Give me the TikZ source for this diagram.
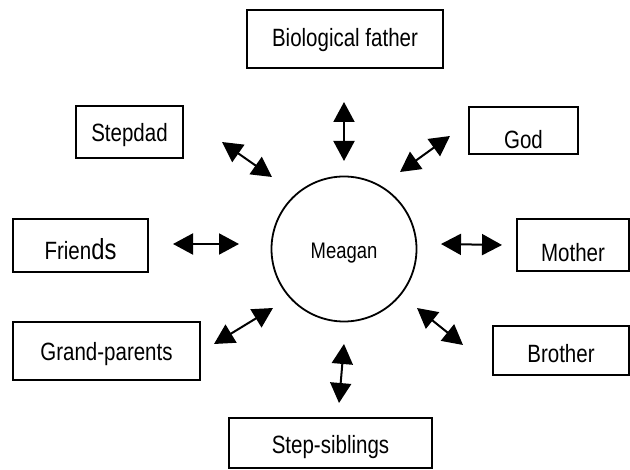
\documentclass[tikz,border=0pt]{standalone}
\usepackage{fontspec}
\setmainfont{Liberation Sans}[FakeStretch=0.82]
\usetikzlibrary{arrows.meta}

\begin{document}
\begin{tikzpicture}[x=1pt, y=-1pt]
    \tikzstyle{box} = [rectangle, draw, line width=1.8pt, inner sep=0pt, text depth=0pt, text height=18pt, font=\fontsize{25}{30}\selectfont]
    \tikzstyle{link} = [{Triangle[length=20pt,width=21pt]}-{Triangle[length=20pt,width=21pt]}, line width=2pt]

    \useasboundingbox (0,0) rectangle (630,470);

    \node [circle, draw, line width=1.8pt, minimum size=145pt, inner sep=0pt, text depth=0pt, text height=19pt, font=\fontsize{22.5}{27}\selectfont] (meagan) at (344,249) {Meagan};

    \node [box, minimum width=196pt, minimum height=58pt, text height=16pt] (father) at (345,39) {Biological father};
    \node [box, minimum width=107pt, minimum height=52pt, text height=20pt] (stepdad) at (129.5,132) {Stepdad};
    \node [box, minimum width=109pt, minimum height=47pt, text height=37pt] (god) at (523.5,130.5) {God};
    \node [box, minimum width=135pt, minimum height=53pt, text height=28pt] (friends) at (80.5,245.5) {Frien{\fontsize{29}{30}\selectfont ds}};
    \node [box, minimum width=112pt, minimum height=52pt, text height=34pt] (mother) at (573,245) {Mother};
    \node [box, minimum width=187pt, minimum height=58pt, text height=20pt] (grandparents) at (106.5,351) {Grand-parents};
    \node [box, minimum width=136pt, minimum height=49pt, text height=24pt] (brother) at (561,350.5) {Brother};
    \node [box, minimum width=203pt, minimum height=50pt, text height=21pt] (stepsiblings) at (330.5,443) {Step-siblings};

    \coordinate (fatherA) at (344,102);
    \coordinate (fatherB) at (344,161);
    \coordinate (stepdadA) at (222,142);
    \coordinate (stepdadB) at (272,177);
    \coordinate (godA) at (450,136);
    \coordinate (godB) at (400,172);
    \coordinate (friendsA) at (173,244);
    \coordinate (friendsB) at (239,244);
    \coordinate (motherA) at (502,245);
    \coordinate (motherB) at (441,244);
    \coordinate (grandA) at (214,344);
    \coordinate (grandB) at (273,308);
    \coordinate (brotherA) at (463,345);
    \coordinate (brotherB) at (417,308);
    \coordinate (siblingsA) at (339,403);
    \coordinate (siblingsB) at (344,344);

    \draw [link] (fatherA) -- (fatherB);
    \draw [link] (stepdadA) -- (stepdadB);
    \draw [link] (godA) -- (godB);
    \draw [link] (friendsA) -- (friendsB);
    \draw [link] (motherA) -- (motherB);
    \draw [link] (grandA) -- (grandB);
    \draw [link] (brotherA) -- (brotherB);
    \draw [link] (siblingsA) -- (siblingsB);
\end{tikzpicture}
\end{document}
